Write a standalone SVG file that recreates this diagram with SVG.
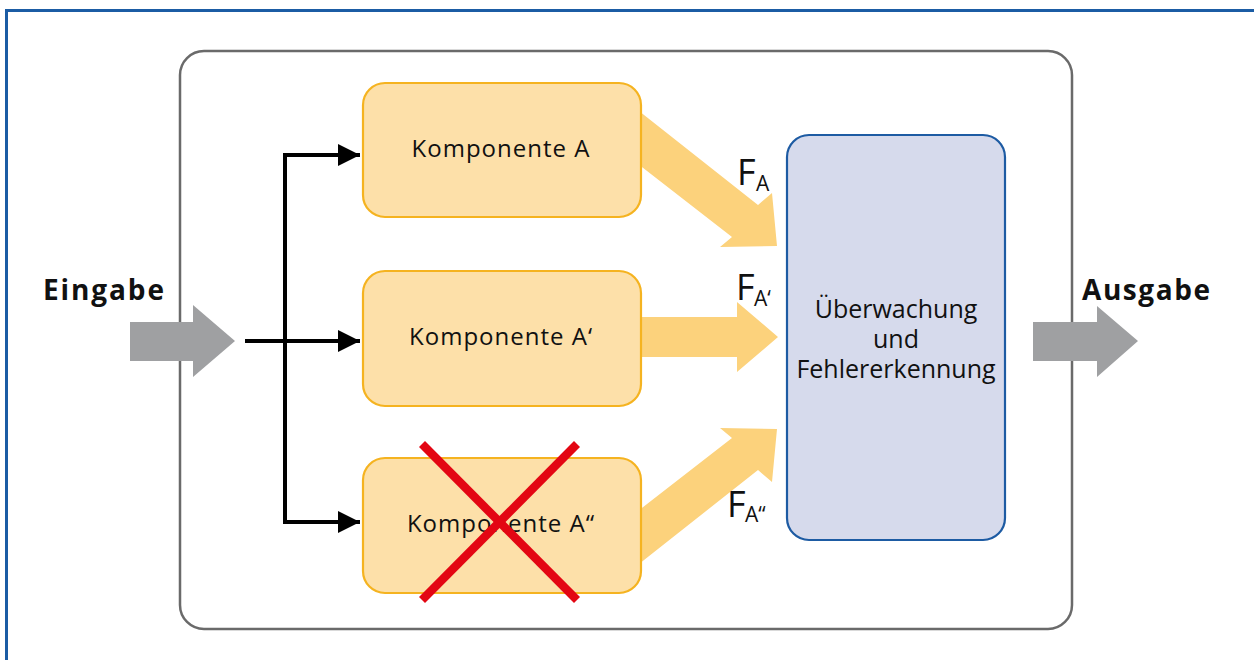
<svg xmlns="http://www.w3.org/2000/svg" width="1254" height="660" viewBox="0 0 1254 660">
  <style>
    .frame { fill: none; stroke: #1b5ca4; stroke-width: 3; }
    .system { fill: #ffffff; stroke: #6a6a6a; stroke-width: 2.5; }
    .comp { fill: #fde0a9; stroke: #f5b320; stroke-width: 2.2; }
    .monitor { fill: #d6daec; stroke: #1d5ba3; stroke-width: 2.2; }
    .flow { fill: #fcd27c; }
    .io { fill: #9fa0a2; }
    .wire { fill: none; stroke: #000000; stroke-width: 4; }
    .cross { stroke: #e30613; stroke-width: 8.5; stroke-linecap: butt; }
    .label { font-family: "Open Sans", "Noto Sans", sans-serif; font-size: 24px; letter-spacing: 1px; fill: #111111; text-anchor: middle; }
    .mon-label { font-family: "Open Sans", "Noto Sans", sans-serif; font-size: 25px; fill: #111111; text-anchor: middle; }
    .io-label { font-family: "Open Sans", "Noto Sans", sans-serif; font-size: 28px; font-weight: bold; fill: #111111; }
    .sig { font-family: "Open Sans", "Noto Sans", sans-serif; fill: #111111; }
  </style>
  <defs>
    <marker id="tri" viewBox="0 0 10 10" refX="10" refY="5" markerWidth="7" markerHeight="5.5" markerUnits="strokeWidth" orient="auto">
      <path d="M0,0 L10,5 L0,10 Z" fill="#000000"/>
    </marker>
  </defs>

  <rect width="1254" height="660" fill="#ffffff"/>
  <!-- page frame -->
  <path class="frame" d="M6.5,662 V10.5 H1256"/>

  <!-- system boundary -->
  <g id="system">
    <rect class="system" x="180" y="51" width="892" height="578" rx="24" ry="24"/>
  </g>

  <!-- connectors -->
  <g id="connectors">
    <!-- input / output block arrows -->
    <polygon class="io" points="130,322 193,322 193,305 235,341 193,377 193,361 130,361"/>
    <polygon class="io" points="1033,322 1097,322 1097,306 1138,341 1097,377 1097,361 1033,361"/>
    <!-- distribution wires -->
    <path class="wire" d="M245,341 H360" marker-end="url(#tri)"/>
    <path class="wire" d="M287,155 H285 V522 H287"/>
    <path class="wire" d="M283,155 H360" marker-end="url(#tri)"/>
    <path class="wire" d="M283,522 H360" marker-end="url(#tri)"/>
    <!-- result flows -->
    <polygon class="flow" points="620,96 758,205 772,193 777,246 720,247 732,237 620,150"/>
    <polygon class="flow" points="620,317 737,317 737,302 778,337 737,372 737,357 620,357"/>
    <polygon class="flow" points="620,579 758,470 772,482 777,429 720,428 732,438 620,525"/>
  </g>

  <g id="comp-a">
    <rect class="comp" x="363" y="83" width="278" height="134" rx="22" ry="22"/>
    <text class="label" x="501" y="157">Komponente A</text>
  </g>

  <g id="comp-a1">
    <rect class="comp" x="363" y="271" width="278" height="135" rx="22" ry="22"/>
    <text class="label" x="501" y="345">Komponente A‘</text>
  </g>

  <g id="comp-a2">
    <rect class="comp" x="363" y="458" width="278" height="135" rx="22" ry="22"/>
    <text class="label" x="501" y="532">Komponente A“</text>
    <!-- failed component -->
    <line class="cross" x1="422" y1="444" x2="577" y2="600"/>
    <line class="cross" x1="577" y1="444" x2="422" y2="600"/>
  </g>

  <g id="monitor">
    <rect class="monitor" x="787" y="135" width="218" height="405" rx="22" ry="22"/>
    <text class="mon-label" x="896" y="318">Überwachung</text>
    <text class="mon-label" x="896" y="348">und</text>
    <text class="mon-label" x="896" y="378">Fehlererkennung</text>
  </g>

  <!-- signal labels -->
  <g id="sig-a">
    <text class="sig" x="737" y="185" font-size="36">F<tspan x="756" y="191" font-size="21">A</tspan></text>
  </g>
  <g id="sig-a1">
    <text class="sig" x="736" y="300" font-size="36">F<tspan x="754" y="306" font-size="21">A‘</tspan></text>
  </g>
  <g id="sig-a2">
    <text class="sig" x="727" y="517" font-size="36">F<tspan x="745" y="522" font-size="21">A“</tspan></text>
  </g>

  <g id="in-label">
    <text class="io-label" x="43" y="300" textLength="121" lengthAdjust="spacing">Eingabe</text>
  </g>
  <g id="out-label">
    <text class="io-label" x="1082" y="300" textLength="128" lengthAdjust="spacing">Ausgabe</text>
  </g>
</svg>
